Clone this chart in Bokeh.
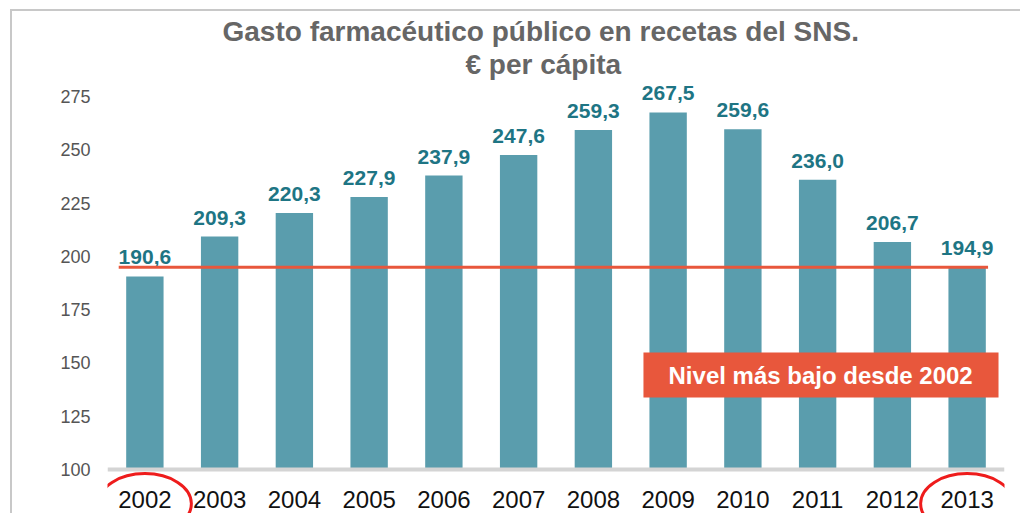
from bokeh.plotting import figure
from bokeh.models import Span, Title, FixedTicker, Range1d, FactorRange
from bokeh.core.properties import value
from bokeh.embed import file_html
from bokeh.resources import INLINE

# ---- data ----
years = ["2002", "2003", "2004", "2005", "2006", "2007",
         "2008", "2009", "2010", "2011", "2012", "2013"]
gasto = [190.6, 209.3, 220.3, 227.9, 237.9, 247.6,
         259.3, 267.5, 259.6, 236.0, 206.7, 194.9]
labels = [f"{v:.1f}".replace(".", ",") for v in gasto]
y_ticks = [100, 125, 150, 175, 200, 225, 250, 275]
highlight_years = ["2002", "2013"]
title_line1 = "Gasto farmacéutico público en recetas del SNS."
title_line2 = "€ per cápita"
note_text = "Nivel más bajo desde 2002"

FONT = "Liberation Sans"
BAR = "#5a9dad"
LABEL = "#1e7584"
ORANGE = "#e8573c"

p = figure(
    width=1010, height=504,
    x_range=FactorRange(factors=years),
    y_range=Range1d(78.42, 282.98),
    x_axis_location=None,
    output_backend="svg", toolbar_location=None,
    min_border_left=95, min_border_right=18,
    min_border_top=68, min_border_bottom=0,
    outline_line_color=None,
)
# outer gray frame of the original graphic
p.styles = {"margin-left": "10px", "margin-top": "9px",
            "border-left": "2px solid #c8c8c8", "border-top": "2px solid #c8c8c8"}

# titles (first added sits nearest the plot)
p.add_layout(Title(text=title_line2, align="left", text_font=FONT,
                   text_font_size="28px", text_font_style="bold",
                   text_color="#666666", standoff=0, offset=358), "above")
p.add_layout(Title(text=title_line1, align="left", text_font=FONT,
                   text_font_size="28px", text_font_style="bold",
                   text_color="#666666", standoff=0, offset=115), "above")

p.grid.visible = False
ya = p.yaxis[0]
ya.ticker = FixedTicker(ticks=y_ticks)
ya.axis_line_color = None
ya.major_tick_line_color = None
ya.minor_tick_line_color = None
ya.major_tick_out = 0
ya.major_tick_in = 0
ya.major_label_text_font = FONT
ya.major_label_text_font_size = "18px"
ya.major_label_text_color = "#555555"
ya.major_label_standoff = 17

# baseline
p.add_layout(Span(location=y_ticks[0], dimension="width",
                  line_color="#d4d4d4", line_width=4))

# bars
p.vbar(x=years, top=gasto, bottom=y_ticks[0], width=0.5,
       fill_color=BAR, line_color=None)

# value labels
p.text(x=years, y=gasto, text=labels, text_align="center",
       text_baseline="alphabetic", y_offset=-19,
       text_font=value(FONT), text_font_size="21px", text_font_style="bold",
       text_color=LABEL)

# year labels
p.text(x=years, y=[y_ticks[0]] * len(years), text=years, text_align="center",
       text_baseline="middle", y_offset=30,
       text_font=value(FONT), text_font_size="24px", text_color="#111111")

# red ellipses around highlighted years
p.ellipse(x=highlight_years, y=[84.0] * len(highlight_years),
          width=93, height=60, width_units="screen", height_units="screen",
          fill_color=None, line_color="#ee1c1c", line_width=3)

# lowest-level line at 2013 value
low = gasto[-1]
p.segment(x0=[(years[0], -0.35)], y0=[low], x1=[(years[-1], 0.28)], y1=[low],
          line_color=ORANGE, line_width=3)

# annotation box
p.quad(left=[(years[7], -0.33)], right=[(years[-1], 0.42)],
       top=[154.9], bottom=[133.8], fill_color=ORANGE, line_color=None)
p.text(x=[(years[9], 0.04)], y=[144.3], text=[note_text],
       text_align="center", text_baseline="middle",
       text_font=value(FONT), text_font_size="24px", text_font_style="bold",
       text_color="white")

open("out.html", "w").write(file_html(p, INLINE))
